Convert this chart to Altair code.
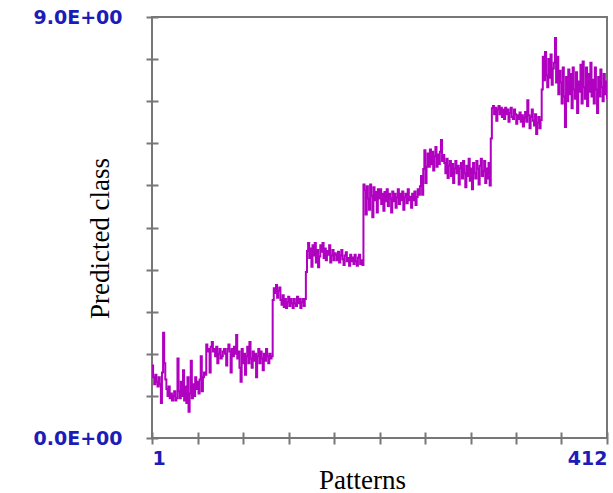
import altair as alt
import pandas as pd

# Predicted class for each of the 412 patterns
seg_a = [1.55, 1.3, 1.15, 1.35, 1.2, 1.1, 1.3, 1.15, 0.75, 1.4, 2.25, 1.6]
seg_b = [1.25, 1.05, 0.9, 1.1, 0.85, 0.95, 0.8, 0.9, 1.0, 0.8, 0.85, 1.7,
         1.0, 0.85, 1.2, 0.9, 1.45, 0.8, 1.1, 0.75, 1.3, 0.56, 0.95, 1.65,
         0.85, 1.15, 0.9, 1.3, 1.05, 1.2, 0.95, 1.25, 1.75, 1.0, 1.3, 1.4]
seg_c = [1.35, 2.0, 1.85, 1.9, 1.4, 1.95, 2.05, 1.85, 1.9, 1.75, 1.95, 1.6, 1.8, 1.9, 1.7]
seg_d = [1.75, 1.85, 1.9, 1.8, 1.55, 1.9, 2.0, 1.85, 1.4, 1.9, 1.75, 1.95, 1.8, 2.2, 1.7, 1.85, 1.5, 1.2]
seg_e = [1.9, 1.6, 1.8, 1.35, 1.75, 1.95, 1.6, 2.05, 1.7, 1.5,
         1.85, 1.65, 1.8, 1.3, 1.75, 1.9, 1.6, 1.85, 1.7, 1.45,
         1.8, 1.65, 1.9, 1.75, 1.6, 1.8, 1.7, 1.75]
seg_f = [2.95, 3.2, 3.1, 3.27, 3.0, 3.15, 3.22, 2.95, 2.85, 3.05,
         2.8, 2.97, 2.78, 2.9, 3.02, 2.82, 2.97, 2.88, 2.78, 2.97,
         2.88, 2.82, 3.02, 2.88, 2.97, 2.78, 2.9, 2.97, 2.82, 2.97]
seg_g = [3.55, 4.0, 4.17, 3.85, 4.05, 3.66, 4.12, 3.9, 4.17, 3.75,
         4.02, 3.65, 3.88, 4.12, 3.98, 4.17, 3.85, 4.05, 3.8, 4.0,
         3.92, 4.12, 3.75, 3.9, 4.02, 3.8, 3.95,
         3.92, 3.8, 3.98, 3.75, 3.9, 4.02, 3.82, 3.7, 3.9, 3.97,
         3.78, 3.85, 3.68, 3.92, 3.78, 3.86, 3.72, 3.92, 3.78, 3.68,
         3.86, 3.92, 3.72, 3.8, 3.7]
seg_h = [5.42, 5.3, 4.78, 5.38, 5.12, 4.88, 5.42, 5.18, 4.72, 5.36, 5.08, 5.26, 4.82, 5.32,
         5.12, 5.32, 5.0, 5.22, 4.86, 5.26, 5.06, 5.32, 4.96, 5.22,
         5.12, 4.82, 5.27, 5.06, 5.22, 4.92, 5.14, 5.32, 5.0, 5.22,
         5.08, 5.27, 4.88, 5.14, 5.22, 5.02, 5.32, 5.08, 5.16, 4.92,
         5.22, 5.08, 5.27, 4.98, 5.15, 5.32, 5.2, 5.38]
seg_i = [5.6, 5.2, 5.75, 6.15, 5.45, 5.8,
         6.08, 5.8, 6.17, 5.85, 6.12, 5.72, 6.02, 6.22, 5.8, 6.06,
         5.86, 6.12, 6.37, 5.92, 6.05]
seg_k = [5.88, 5.66, 5.97, 5.56, 5.82, 5.92, 5.6, 5.86, 5.45, 5.76,
         5.92, 5.66, 5.82, 5.42, 5.76, 5.88, 5.55, 5.92, 5.66, 5.36,
         5.82, 5.6, 5.97, 5.5, 5.76, 5.32, 5.88, 5.66, 5.55, 5.92,
         5.76, 5.42, 5.82, 5.97, 5.6, 5.7, 5.92, 5.45, 5.76, 5.55,
         5.88, 5.4]
seg_l = [6.4, 7.05, 7.1, 6.92, 7.06, 6.78, 7.02, 7.1, 6.92, 7.06,
         6.86, 7.02, 6.82, 7.06, 6.92, 7.02, 6.76, 6.95, 7.06, 6.86,
         6.82, 7.02, 6.92, 6.72, 6.9, 6.82, 6.96, 6.76, 6.9, 6.66,
         6.85, 6.97, 6.76, 7.22, 6.9, 6.62, 6.86, 7.02, 6.78, 6.68,
         6.92, 6.5, 6.74, 6.86, 6.62, 6.8]
seg_m = [7.45, 8.15, 7.65, 8.25, 7.75, 7.5, 8.1, 7.7, 8.2, 7.55,
         7.9, 8.02, 8.55, 7.6, 8.15, 7.35, 7.85]
seg_n = [7.6, 7.15, 7.92, 7.3, 6.65, 7.72, 7.2, 7.88, 7.35, 7.78,
         7.05, 7.92, 7.45, 7.25, 7.82, 6.95, 7.62, 7.4, 7.98, 7.15,
         8.05, 7.5, 7.25, 7.92, 7.1, 7.78, 7.4, 8.02, 7.3, 7.66,
         7.15, 7.92, 7.45, 6.95, 7.72, 7.3, 7.88, 7.5, 7.2, 7.78,
         7.35, 7.62, 7.25]

predicted = (seg_a + seg_b + seg_c + seg_d + seg_e + seg_f + seg_g + seg_h
             + seg_i + seg_k + seg_l + seg_m + seg_n)
patterns = list(range(1, len(predicted) + 1))

y_ticks = [0, 0.9, 1.8, 2.7, 3.6, 4.5, 5.4, 6.3, 7.2, 8.1, 9]
x_ticks = [1, 42.1, 83.2, 124.3, 165.4, 206.5, 247.6, 288.7, 329.8, 370.9, 412]

df = pd.DataFrame({"Pattern": patterns, "Predicted": predicted})

label_color = "#1c1cb8"
axis_gray = "#777777"

chart = alt.Chart(df).mark_line(
    color="#b000c0", strokeWidth=2, clip=True, interpolate="step-after"
).encode(
    x=alt.X(
        "Pattern:Q",
        scale=alt.Scale(domain=[1, 412], nice=False, zero=False),
        axis=alt.Axis(
            values=x_ticks,
            labelExpr="datum.value == 1 ? '1' : (datum.value == 412 ? '412' : '')",
            labelFlush=True,
            labelPadding=5,
            title="Patterns",
            titleX=210,
            titleY=48,
            titleBaseline="middle",
        ),
    ),
    y=alt.Y(
        "Predicted:Q",
        scale=alt.Scale(domain=[0, 9], nice=False, zero=False),
        axis=alt.Axis(
            values=y_ticks,
            labelExpr="datum.value == 9 ? '9.0E+00' : (datum.value == 0 ? '0.0E+00' : '')",
            labelPadding=24,
            title="Predicted class",
            titleX=-58,
            titleY=221,
            titleBaseline="middle",
        ),
    ),
).properties(
    width=455,
    height=421,
    autosize=alt.AutoSizeParams(type="none"),
    padding={"left": 152, "top": 17, "right": 6, "bottom": 55},
    background="white",
).configure_view(
    stroke=axis_gray,
    strokeWidth=2,
).configure_axis(
    domain=False,
    grid=False,
    ticks=True,
    tickColor=axis_gray,
    tickWidth=2,
    tickSize=12,
    offset=-6,
    labelFont="DejaVu Sans",
    labelFontWeight="bold",
    labelFontSize=19,
    labelColor=label_color,
    titleFont="Liberation Serif",
    titleFontWeight="normal",
    titleFontSize=27,
    titleColor="#000000",
)

chart.save("out.html", embed_options={"renderer": "svg", "actions": False})
